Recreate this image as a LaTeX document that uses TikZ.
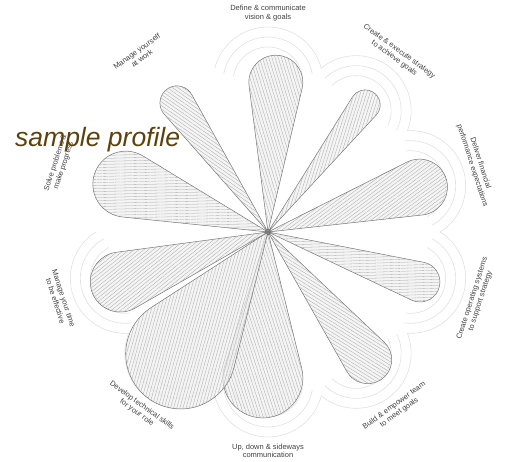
\documentclass[tikz,border=0pt]{standalone}
\usepackage{fontspec}
\setmainfont{Liberation Sans}
\usetikzlibrary{patterns.meta}
\definecolor{profilebrown}{RGB}{92,66,10}

\begin{document}
\begin{tikzpicture}[x=1pt, y=1pt,
  ring/.style={draw=black!12, line width=0.6pt},
  petal/.style={draw=black!55, line width=0.5pt, fill=black!6, fill opacity=0.7, line join=round},
  lbl/.style={align=center, font=\fontsize{7.5}{8.6}\selectfont, text=black!75, inner sep=0pt},
  sample/.style={font=\fontsize{26.5}{30}\selectfont\itshape, text=profilebrown, inner sep=0pt}]
\useasboundingbox (-268,-229) rectangle (241,232);

% scalloped scale rings
\foreach \a in {90,54,...,-162} {
  \foreach \r/\s in {35/80,45/80,55/75.5}
    \draw[ring] (\a:150) ++({\a-\s}:\r) arc[start angle=\a-\s, end angle=\a+\s, radius=\r];
}

% petals: angle / distance of cap centre / cap radius
\foreach \a/\c/\h in {87/150/27, 52.6/160/15, 16.5/158/28, -18.2/160/20, -52/162/24,
                      -92/146/40, -125.6/150/55, -161.3/156/30, 161.4/150/33, 125.2/158/17} {
  \pgfmathsetmacro\g{acos(\h/\c)}
  \pgfmathsetmacro\ha{\a+20}
  \begin{scope}[rotate=\a]
    \path[petal, postaction={pattern={Lines[angle=\ha, distance=3pt, line width=0.3pt]}, pattern color=black!35}]
      (0,0) -- ({\c+\h*cos(\g-180)},{\h*sin(\g-180)})
      arc[start angle=\g-180, end angle=180-\g, radius=\h] -- cycle;
  \end{scope}
}
\draw[black!60, line width=0.6pt] (0,0) circle (2.5);

% labels round the chart
\foreach \a/\txt [count=\i] in {90/{Define \& communicate\\vision \& goals},
    54/{Create \& execute strategy\\to achieve goals},
    18/{Deliver financial\\performance expectations},
    -18/{Create operating systems\\to support strategy},
    -54/{Build \& empower team\\to meet goals},
    -90/{Up, down \& sideways\\communication},
    -126/{Develop technical skills\\for your role},
    -162/{Manage your time\\to be effective},
    162/{Solve problems \&\\make progress},
    126/{Manage yourself\\at work}} {
  \pgfmathsetmacro\rot{\a<0 ? \a+90 : \a-90}
  \node[lbl, rotate=\rot] (lab\i) at (\a:219) {\txt};
}

\node[sample, anchor=base west] (profile) at (-253,85) {sample profile};
\end{tikzpicture}
\end{document}
